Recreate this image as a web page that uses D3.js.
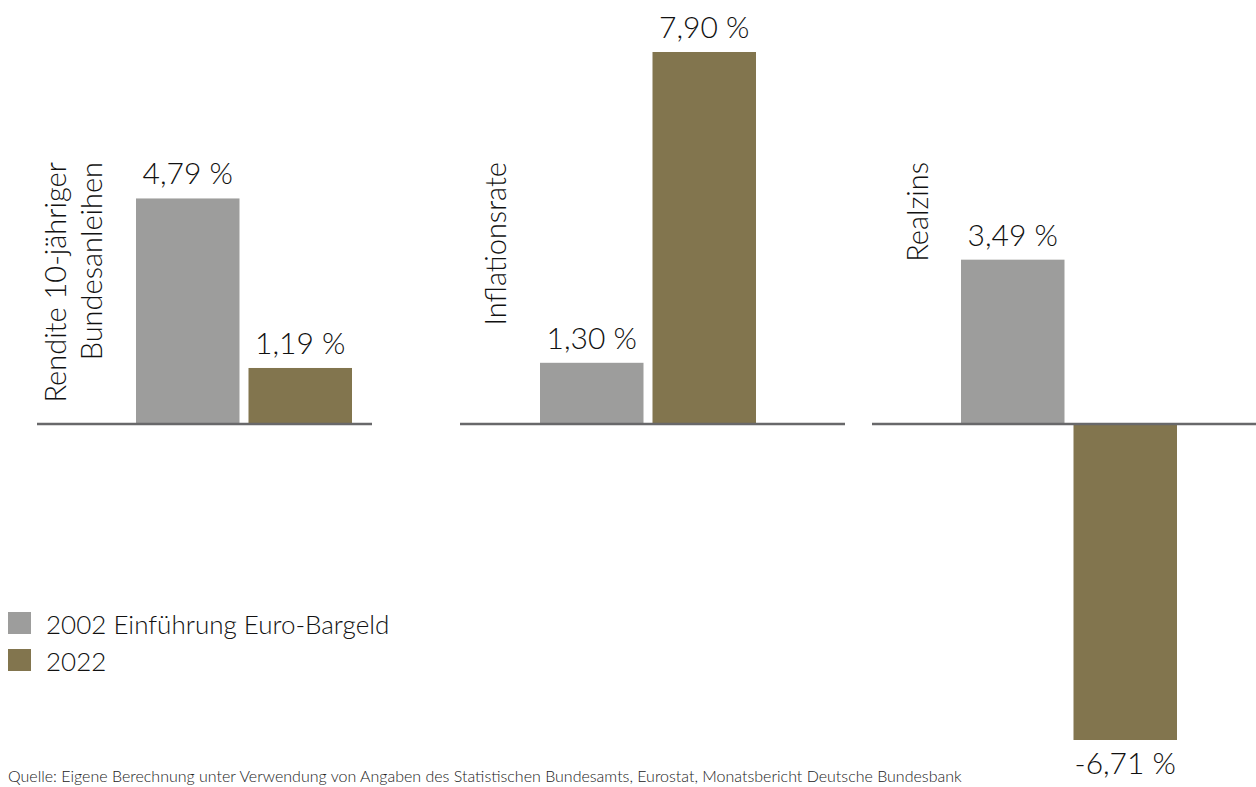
<!DOCTYPE html>
<html>
<head>
<meta charset="utf-8">
<script src="https://cdn.jsdelivr.net/npm/d3@7"></script>
<style>
  html, body { margin: 0; padding: 0; background: #fff; }
  svg { display: block; font-family: Lato, "Open Sans", sans-serif; font-weight: 300; }
</style>
</head>
<body>
<svg id="chart" width="1256" height="787"></svg>
<script>
// ---- data ----
const categories = ["Rendite 10-jähriger Bundesanleihen", "Inflationsrate", "Realzins"];
const categoryLines = [["Rendite 10-jähriger", "Bundesanleihen"], ["Inflationsrate"], ["Realzins"]];
const seriesNames = ["2002 Einführung Euro-Bargeld", "2022"];
const values2002 = [4.79, 1.30, 3.49];
const values2022 = [1.19, 7.90, -6.71];
const sourceNote = "Quelle: Eigene Berechnung unter Verwendung von Angaben des Statistischen Bundesamts, Eurostat, Monatsbericht Deutsche Bundesbank";

// ---- style / layout ----
const colors = ["#9d9d9c", "#82754e"];
const panelAxis = [[37, 372], [460, 845], [872, 1256]];
const barStart = [136, 540, 961];
const groupWidth = 216;
const labelX = [66, 506, 928];
const labelLineGap = 36;
const labelEndY = 162;

const svg = d3.select("#chart");

const allVals = values2002.concat(values2022);
const y = d3.scaleLinear()
  .domain([d3.min(allVals), d3.max(allVals)])
  .range([740, 52]);

const loc = d3.formatLocale({decimal: ",", thousands: ".", grouping: [3], currency: ["", " €"], minus: "-"});
const fmt = v => loc.format(".2f")(v) + " %";

const seriesValues = [values2002, values2022];

categories.forEach((cat, i) => {
  const g = svg.append("g").attr("class", "panel");
  const x = d3.scaleBand()
    .domain(seriesNames)
    .range([barStart[i], barStart[i] + groupWidth])
    .paddingInner(0.08)
    .paddingOuter(0);

  const data = seriesNames.map((s, k) => ({series: s, value: seriesValues[k][i], color: colors[k]}));

  g.selectAll("rect.bar").data(data).enter().append("rect")
    .attr("class", "bar")
    .attr("x", d => x(d.series))
    .attr("width", x.bandwidth())
    .attr("y", d => y(Math.max(0, d.value)))
    .attr("height", d => Math.abs(y(d.value) - y(0)))
    .attr("fill", d => d.color);

  g.selectAll("text.val").data(data).enter().append("text")
    .attr("class", "val")
    .attr("x", d => x(d.series) + x.bandwidth() / 2)
    .attr("y", d => d.value >= 0 ? y(d.value) - 14 : y(d.value) + 34)
    .attr("text-anchor", "middle")
    .attr("font-size", 30)
    .attr("fill", "#111")
    .text(d => fmt(d.value));

  // baseline
  g.append("line")
    .attr("x1", panelAxis[i][0]).attr("x2", panelAxis[i][1])
    .attr("y1", y(0)).attr("y2", y(0))
    .attr("stroke", "#68686a").attr("stroke-width", 2.5);

  // category label (rotated)
  categoryLines[i].forEach((line, j) => {
    g.append("text")
      .attr("transform", `translate(${labelX[i] + j * labelLineGap},${labelEndY}) rotate(-90)`)
      .attr("text-anchor", "end")
      .attr("font-size", 29)
      .attr("fill", "#111")
      .text(line);
  });
});

// legend
const legend = svg.append("g").attr("class", "legend");
seriesNames.forEach((s, k) => {
  const ly = 612 + k * 37;
  legend.append("rect")
    .attr("x", 8).attr("y", ly).attr("width", 23).attr("height", 22)
    .attr("fill", colors[k]);
  legend.append("text")
    .attr("x", 46).attr("y", ly + 22)
    .attr("font-size", 26)
    .attr("fill", "#111")
    .text(s);
});

// source note
svg.append("text")
  .attr("x", 8).attr("y", 782)
  .attr("font-size", 16)
  .attr("fill", "#222")
  .text(sourceNote);
</script>
</body>
</html>
